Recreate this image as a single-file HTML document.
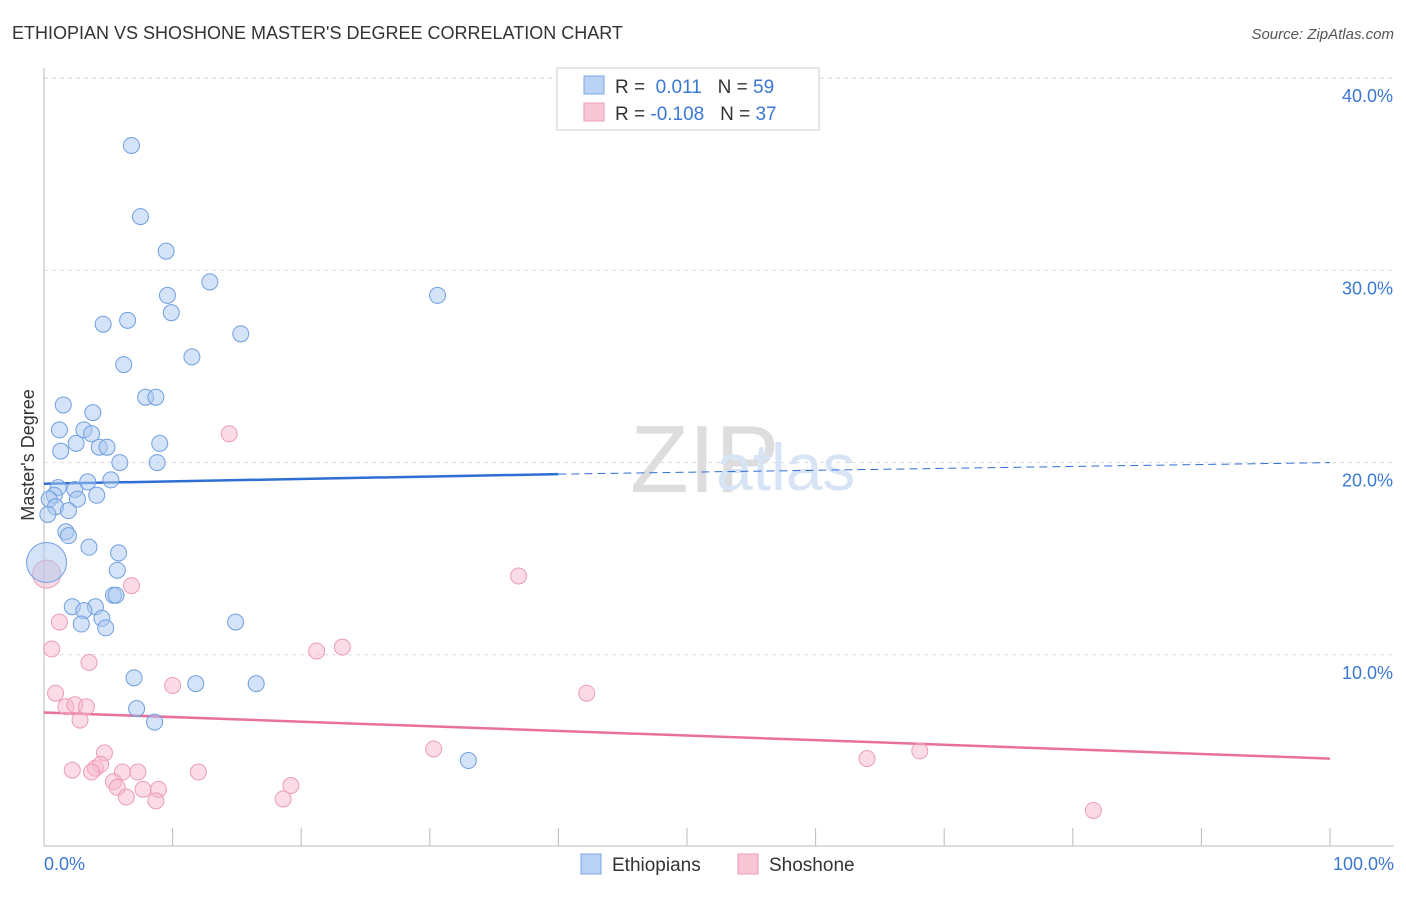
<!DOCTYPE html>
<html><head><meta charset="utf-8"><style>
body{margin:0;background:#fff;font-family:"Liberation Sans",sans-serif;}
svg text{font-family:"Liberation Sans",sans-serif;}
</style></head><body>
<svg width="1406" height="892">
<text x="12" y="39" font-size="18" fill="#333">ETHIOPIAN VS SHOSHONE MASTER'S DEGREE CORRELATION CHART</text>
<text x="1394" y="39" font-size="15" fill="#555" text-anchor="end" font-style="italic">Source: ZipAtlas.com</text>
<g id="grid"></g>
<line x1="44" y1="68" x2="44" y2="846" stroke="#bbb"/>
<line x1="44" y1="846" x2="1394" y2="846" stroke="#bbb"/>
<text x="630" y="492" font-size="96" fill="#ddd" font-family="Liberation Serif">ZIP</text>
<text x="716" y="490" font-size="66" fill="#d6e4f5">atlas</text>
<text transform="translate(34,455) rotate(-90)" font-size="18" fill="#333" text-anchor="middle">Master's Degree</text>
<text x="44" y="870" font-size="18" fill="#3a78d4">0.0%</text>
<text x="1394" y="870" font-size="18" fill="#3a78d4" text-anchor="end">100.0%</text>
<g id="ticks"></g>
<g id="lines"></g>
<g id="pts"></g>
<g>
<rect x="557" y="68" width="262" height="62" fill="#fff" stroke="#ccc"/>
<rect x="584" y="76" width="20" height="18" fill="#b9d3f5" stroke="#7aa6e0"/>
<rect x="584" y="103" width="20" height="18" fill="#f9c6d6" stroke="#ec9cb6"/>
<text x="615" y="93" font-size="19" fill="#333">R = <tspan fill="#3a78d4">&#160;0.011</tspan>&#160;&#160;&#160;N = <tspan fill="#3a78d4">59</tspan></text>
<text x="615" y="120" font-size="19" fill="#333">R = <tspan fill="#3a78d4">-0.108</tspan>&#160;&#160;&#160;N = <tspan fill="#3a78d4">37</tspan></text>
</g>
<g>
<rect x="581" y="854" width="20" height="20" fill="#b9d3f5" stroke="#7aa6e0"/>
<text x="612" y="871" font-size="19" fill="#333">Ethiopians</text>
<rect x="738" y="854" width="20" height="20" fill="#f9c6d6" stroke="#ec9cb6"/>
<text x="769" y="871" font-size="19" fill="#333">Shoshone</text>
</g>
</svg>
<script>
const yTicks=[10,20,30,40];
const xTickCount=10;
const blueX=[6.8,7.5,9.5,12.9,9.6,30.6,9.9,4.6,6.5,15.3,11.5,6.2,1.5,7.9,8.7,3.8,1.2,3.1,3.7,2.5,1.3,4.3,4.9,9.0,5.9,8.8,1.1,2.4,3.4,5.2,0.8,0.4,2.6,4.1,0.9,1.9,0.3,1.7,1.9,3.5,5.8,0.2,5.7,5.4,5.6,2.2,4.0,3.1,4.5,2.9,4.8,14.9,7.0,11.8,16.5,7.2,8.6,33.0];
const blueY=[36.5,32.8,31.0,29.4,28.7,28.7,27.8,27.2,27.4,26.7,25.5,25.1,23.0,23.4,23.4,22.6,21.7,21.7,21.5,21.0,20.6,20.8,20.8,21.0,20.0,20.0,18.7,18.6,19.0,19.1,18.3,18.1,18.1,18.3,17.7,17.5,17.3,16.4,16.2,15.6,15.3,14.8,14.4,13.1,13.1,12.5,12.5,12.3,11.9,11.6,11.4,11.7,8.8,8.5,8.5,7.2,6.5,4.5];
const blueR=[8,8,8,8,8,8,8,8,8,8,8,8,8,8,8,8,8,8,8,8,8,8,8,8,8,8,8,8,8,8,8,8,8,8,8,8,8,8,8,8,8,20,8,8,8,8,8,8,8,8,8,8,8,8,8,8,8,8];
const pinkX=[0.2,6.8,36.9,14.4,0.6,1.2,21.2,23.2,3.5,10.0,0.9,42.2,1.7,2.4,3.3,2.8,4.7,30.3,64.0,68.1,2.2,4.0,4.4,6.1,7.3,12.0,3.7,5.4,5.7,7.7,8.9,19.2,6.4,8.7,18.6,81.6];
const pinkY=[14.2,13.6,14.1,21.5,10.3,11.7,10.2,10.4,9.6,8.4,8.0,8.0,7.3,7.4,7.3,6.6,4.9,5.1,4.6,5.0,4.0,4.1,4.3,3.9,3.9,3.9,3.9,3.4,3.1,3.0,3.0,3.2,2.6,2.4,2.5,1.9];
const pinkR=[14,8,8,8,8,8,8,8,8,8,8,8,8,8,8,8,8,8,8,8,8,8,8,8,8,8,8,8,8,8,8,8,8,8,8,8];
const blueTrend=[18.9,19.4,20.0];
const pinkTrend=[7.0,4.6];
const X0=44,X1=1330,Y0=847,PY=19.22;
const sx=v=>X0+(X1-X0)*v/100, sy=v=>Y0-v*PY;
const NS="http://www.w3.org/2000/svg";
function mk(t,a,p){const e=document.createElementNS(NS,t);for(const k in a)e.setAttribute(k,a[k]);p.appendChild(e);return e;}
const grid=document.getElementById('grid'),ticks=document.getElementById('ticks');
yTicks.forEach(v=>{
 const l=mk('line',{x1:44,x2:1394,y1:sy(v),y2:sy(v),stroke:'#ddd','stroke-dasharray':'4,4'},grid);
 
 
 const t=mk('text',{x:1393,y:sy(v)+24,'font-size':18,fill:'#3a78d4','text-anchor':'end'},ticks);
 t.textContent=v.toFixed(1)+'%';
 
 
});
mk('line',{x1:44,x2:1394,y1:sy(40),y2:sy(40),stroke:'#ddd','stroke-dasharray':'4,4'},grid);
for(let i=0;i<=xTickCount;i++){
 const l=mk('line',{x1:sx(i*10),x2:sx(i*10),y1:828,y2:846,stroke:'#bbb'},ticks);
 
 
}
const lines=document.getElementById('lines');
let b=mk('line',{x1:sx(0),y1:sy(blueTrend[0]),x2:sx(40),y2:sy(blueTrend[1]),stroke:'#2f6fd4','stroke-width':2.5},lines);


b=mk('line',{x1:sx(40),y1:sy(blueTrend[1]),x2:sx(100),y2:sy(blueTrend[2]),stroke:'#2f6fd4','stroke-width':1,'stroke-dasharray':'8,5'},lines);


b=mk('line',{x1:sx(0),y1:sy(pinkTrend[0]),x2:sx(100),y2:sy(pinkTrend[1]),stroke:'#e8709a','stroke-width':2.5},lines);


const pts=document.getElementById('pts');
pinkX.forEach((x,i)=>{
 const c=mk('circle',{cx:sx(x),cy:sy(pinkY[i]),r:pinkR[i],fill:'rgba(247,184,204,0.5)',stroke:'#ec9cb6','stroke-width':1},pts);
 
 
});
blueX.forEach((x,i)=>{
 const c=mk('circle',{cx:sx(x),cy:sy(blueY[i]),r:blueR[i],fill:'rgba(169,200,240,0.5)',stroke:'#6f9fe0','stroke-width':1},pts);
 
 
});
</script>
</body></html>
